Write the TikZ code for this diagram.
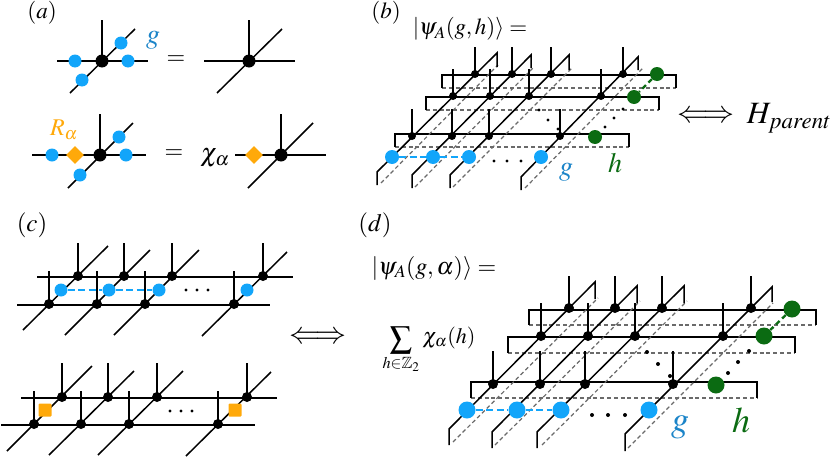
\documentclass[tikz,border=0pt]{standalone}
\usepackage{amsmath}
\usepackage{amssymb}
\usepackage{mathptmx}
\usetikzlibrary{positioning,shapes.geometric}

\definecolor{gblue}{HTML}{12A5FA}
\definecolor{gtext}{HTML}{1B84C8}
\definecolor{hgreen}{HTML}{0B6B12}
\definecolor{ramber}{HTML}{FFA90A}
\definecolor{dashgray}{HTML}{6A6A6A}

\tikzset{
    x=1pt, y=-1pt,
    line/.style={line width=1.5pt, black},
    fold/.style={line width=1.5pt, black, line join=miter},
    shadow/.style={line width=1.2pt, dashgray, dash pattern=on 4pt off 2.8pt},
    vtx/.style={circle, fill=black, inner sep=0pt, minimum size=#1},
    vtx/.default=9pt,
    bluedot/.style={circle, fill=gblue, inner sep=0pt, minimum size=#1},
    bluedot/.default=13pt,
    greendot/.style={circle, fill=hgreen, inner sep=0pt, minimum size=#1},
    greendot/.default=14pt,
    smalldot/.style={circle, fill=black, inner sep=0pt, minimum size=#1},
    smalldot/.default=3.2pt,
    gem/.style={diamond, fill=ramber, inner sep=0pt, minimum size=18pt},
    sq/.style={rectangle, rounded corners=1pt, fill=ramber, inner sep=0pt, minimum size=13pt},
    bluebond/.style={line width=2.4pt, gblue, dash pattern=on 7pt off 3.5pt},
    greenbond/.style={line width=2.4pt, hgreen, dash pattern=on 5pt off 3.5pt},
    txt/.style={inner sep=0pt, font=\fontsize{#1}{#1}\selectfont},
    txt/.default=20
}

\begin{document}
\begin{tikzpicture}
    \useasboundingbox (0,0) rectangle (830,458);

    % panel labels
    \node[txt=23] (la) at (42,13) {$(a)$};
    \node[txt=23] (lb) at (386,13) {$(b)$};
    \node[txt=25] (lc) at (32,225) {$(c)$};
    \node[txt=25] (ld) at (375,225) {$(d)$};

    % panel a: single tensors
    \foreach \n/\cx/\cy/\xl/\xr/\yt/\dlx/\dly/\drx/\dry in {
        ta/102/61/57/148/20/70/93/135/29,
        tb/249/61/204/295/20/217/93/282/29,
        tc/100/155/32/146/114/68/188/133/123,
        td/281/155/235/326/114/248/188/313/123}{
        \coordinate (\n w) at (\xl,\cy);
        \coordinate (\n e) at (\xr,\cy);
        \coordinate (\n n) at (\cx,\yt);
        \coordinate (\n s) at (\dlx,\dly);
        \coordinate (\n f) at (\drx,\dry);
        \draw[line] (\n w) -- (\n e);
        \draw[line] (\n s) -- (\n f);
        \draw[line] (\n n) -- (\cx,\cy);
        \node[vtx=13pt] (\n v) at (\cx,\cy) {};
    }
    \foreach \n/\x/\y in {pa/75/61, pb/128/61, pc/121/43, pd/82/80,
        qa/52/155, qb/126/155, qc/119/137, qd/80/175}{
        \node[bluedot] (\n) at (\x,\y) {};
    }
    \node[gem] (ra) at (75,155) {};
    \node[gem] (rb) at (254,155) {};
    \node[txt=28, text=gtext] (gl) at (153,40) {$g$};
    \node[txt=24, text=ramber] (rl) at (64,130) {$R_\alpha$};
    \node[txt=24] (eqa) at (176,60) {$\mathbf{=}$};
    \node[txt=24] (eqb) at (174,154) {$\mathbf{=}$};
    \node[txt=26] (chi) at (215,158) {$\chi_\alpha$};

    % panel b: three rows of the ladder
    \foreach \n/\xl/\xr/\yt/\yb in {bbk/442/676/75/88, bmd/426/659/97/110, bfr/395/629/134/147}{
        \coordinate (\n a) at (\xl,\yb);
        \coordinate (\n b) at (\xl,\yt);
        \coordinate (\n c) at (\xr,\yt);
        \coordinate (\n d) at (\xr,\yb);
        \draw[shadow] (\n a) -- (\n d);
        \draw[fold] (\n a) -- (\n b) -- (\n c) -- (\n d);
    }
    \foreach \n/\x/\y/\yy/\ux/\uy/\uyy/\sx/\sy/\tx/\ty in {
        ba/377/172/185/497/53/67/381/183/498/65,
        bb/412/175/188/531/55/68/415/187/533/68,
        bc/450/175/188/569/55/70/453/187/572/68,
        bd/521/177/190/638/57/70/525/188/643/68}{
        \coordinate (\n 1) at (\x,\yy);
        \coordinate (\n 2) at (\x,\y);
        \coordinate (\n 3) at (\ux,\uy);
        \coordinate (\n 4) at (\ux,\uyy);
        \coordinate (\n 5) at (\sx,\sy);
        \coordinate (\n 6) at (\tx,\ty);
        \draw[shadow] (\n 5) -- (\n 6);
        \draw[fold] (\n 1) -- (\n 2) -- (\n 3) -- (\n 4);
    }
    \foreach \n/\x/\y/\yy in {
        bk1/475/74/47, bk2/512/74/47, bk3/551/74/47, bk4/623/74/47,
        bm1/453/96/69, bm2/490/96/69, bm3/529/96/69, bm4/601/96/69,
        bf1/412/136/109, bf2/452/136/109, bf3/489/136/109, bf4/560/136/109}{
        \coordinate (\n t) at (\x,\yy);
        \draw[line] (\n t) -- (\x,\y);
        \node[vtx=8pt] (\n) at (\x,\y) {};
    }
    \node[bluedot=14pt] (bg1) at (392,157) {};
    \node[bluedot=14pt] (bg2) at (433,157) {};
    \node[bluedot=14pt] (bg3) at (469,157) {};
    \node[bluedot=14pt] (bg4) at (541,157) {};
    \draw[bluebond] (bg1) -- (bg2);
    \draw[bluebond] (bg2) -- (bg3);
    \node[greendot] (bh1) at (657,74) {};
    \node[greendot] (bh2) at (634,97) {};
    \node[greendot] (bh3) at (595,137) {};
    \draw[greenbond] (bh1) -- (bh2);
    \foreach \n/\x/\y in {bo1/494/161, bo2/507/161, bo3/521/161,
        bo4/539/110, bo5/548/120, bo6/558/129,
        bo7/623/109, bo8/614/118, bo9/605/127}{
        \node[smalldot] (\n) at (\x,\y) {};
    }
    \node[txt=23] (bpsi) at (470,29) {$|\psi_A(g,h)\rangle=$};
    \node[txt=28, text=gtext] (bgl) at (566,172) {$g$};
    \node[txt=28, text=hgreen] (bhl) at (615,163) {$h$};
    \node[txt=31] (barr) at (706,117) {$\Longleftrightarrow$};
    \node[txt=31] (hpar) at (789,118) {$H_{parent}$};

    % panel c: two sheets
    \foreach \n/\xa/\xb/\ya/\xc/\xd/\yb in {cu/37/293/277/17/270/305, cl/21/277/398/1/255/425}{
        \coordinate (\n a) at (\xa,\ya);
        \coordinate (\n b) at (\xb,\ya);
        \coordinate (\n c) at (\xc,\yb);
        \coordinate (\n d) at (\xd,\yb);
        \draw[line] (\n a) -- (\n b);
        \draw[line] (\n c) -- (\n d);
    }
    \foreach \n/\sx/\sy/\tx/\ty in {
        cd1/23/330/108/246, cd2/65/335/150/250, cd3/114/335/199/250, cd4/202/336/287/252,
        cd5/7/451/92/366, cd6/49/455/134/371, cd7/98/455/183/371, cd8/186/456/271/372}{
        \coordinate (\n a) at (\sx,\sy);
        \coordinate (\n b) at (\tx,\ty);
        \draw[line] (\n a) -- (\n b);
    }
    \foreach \n/\x/\y/\yy in {
        cu1/78/276/243, cu2/124/276/243, cu3/172/276/243, cu4/263/276/243,
        cv1/49/304/271, cv2/97/304/271, cv3/145/304/271, cv4/234/304/271,
        cw1/62/397/363, cw2/108/397/363, cw3/157/397/363, cw4/247/397/363,
        cx1/34/424/391, cx2/81/424/391, cx3/129/424/391, cx4/218/424/391}{
        \coordinate (\n t) at (\x,\yy);
        \draw[line] (\n t) -- (\x,\y);
        \node[vtx=10pt] (\n) at (\x,\y) {};
    }
    \node[bluedot] (cg1) at (61,290) {};
    \node[bluedot] (cg2) at (109,290) {};
    \node[bluedot] (cg3) at (159,290) {};
    \node[bluedot] (cg4) at (247,290) {};
    \draw[bluebond] (cg1) -- (cg2);
    \draw[bluebond] (cg2) -- (cg3);
    \node[sq] (cs1) at (45,410) {};
    \node[sq] (cs2) at (235,410) {};
    \foreach \n/\x/\y in {co1/186/290, co2/197/290, co3/208/290,
        co4/170/411, co5/181/411, co6/192/411}{
        \node[smalldot] (\n) at (\x,\y) {};
    }
    \node[txt=31] (carr) at (318,338) {$\Longleftrightarrow$};

    % panel d: same ladder, larger
    \foreach \n/\xl/\xr/\yt/\yb in {dbk/529/816/310/325, dmd/508/795/337/353, dfr/471/757/382/398}{
        \coordinate (\n a) at (\xl,\yb);
        \coordinate (\n b) at (\xl,\yt);
        \coordinate (\n c) at (\xr,\yt);
        \coordinate (\n d) at (\xr,\yb);
        \draw[shadow] (\n a) -- (\n d);
        \draw[fold] (\n a) -- (\n b) -- (\n c) -- (\n d);
    }
    \foreach \n/\x/\y/\yy/\ux/\uy/\uyy/\sx/\sy/\tx/\ty in {
        da/449/429/445/595/282/299/453/442/598/298,
        db/492/432/448/637/286/303/495/445/640/301,
        dc/537/432/448/684/286/303/542/445/687/301,
        dd/625/434/451/772/287/302/628/448/773/303}{
        \coordinate (\n 1) at (\x,\yy);
        \coordinate (\n 2) at (\x,\y);
        \coordinate (\n 3) at (\ux,\uy);
        \coordinate (\n 4) at (\ux,\uyy);
        \coordinate (\n 5) at (\sx,\sy);
        \coordinate (\n 6) at (\tx,\ty);
        \draw[shadow] (\n 5) -- (\n 6);
        \draw[fold] (\n 1) -- (\n 2) -- (\n 3) -- (\n 4);
    }
    \foreach \n/\x/\y/\yy in {
        dk1/569/308/276, dk2/615/308/276, dk3/662/308/276, dk4/751/308/276,
        dm1/541/336/303, dm2/588/336/303, dm3/635/336/303, dm4/723/336/303,
        df1/493/384/351, df2/540/384/351, df3/585/384/351, df4/673/384/351}{
        \coordinate (\n t) at (\x,\yy);
        \draw[line] (\n t) -- (\x,\y);
        \node[vtx=10pt] (\n) at (\x,\y) {};
    }
    \node[bluedot=17pt] (dg1) at (467,410) {};
    \node[bluedot=17pt] (dg2) at (517,410) {};
    \node[bluedot=17pt] (dg3) at (561,410) {};
    \node[bluedot=17pt] (dg4) at (649,410) {};
    \draw[bluebond] (dg1) -- (dg2);
    \draw[bluebond] (dg2) -- (dg3);
    \node[greendot=17pt] (dh1) at (792,309) {};
    \node[greendot=17pt] (dh2) at (764,336) {};
    \node[greendot=17pt] (dh3) at (716,385) {};
    \draw[greenbond] (dh1) -- (dh2);
    \foreach \n/\x/\y in {do1/592/415, do2/608/415, do3/625/415,
        do4/647/352, do5/658/364, do6/670/376,
        do7/749/351, do8/738/362, do9/728/373}{
        \node[smalldot=4pt] (\n) at (\x,\y) {};
    }
    \node[txt=24] (dpsi) at (434,268) {$|\psi_A(g,\alpha)\rangle=$};
    \node[txt=22] (dsum) at (401,350) {$\displaystyle\sum_{h\in\mathbb{Z}_2}$};
    \node[txt=22] (dchi) at (449,338) {$\chi_\alpha(h)$};
    \node[txt=36, text=gtext] (dgl) at (680,427) {$g$};
    \node[txt=36, text=hgreen] (dhl) at (741,420) {$h$};
\end{tikzpicture}
\end{document}
